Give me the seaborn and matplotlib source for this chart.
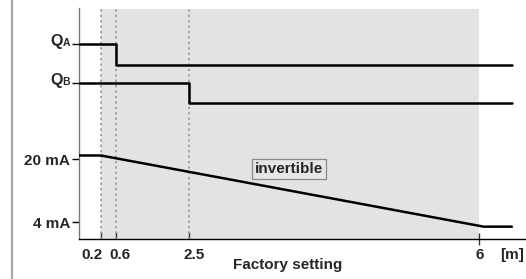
import numpy as np
import pandas as pd
import matplotlib
matplotlib.use("Agg")
import matplotlib.pyplot as plt
from matplotlib.lines import Line2D
import seaborn as sns

# ---- data ----
qa_x = [-0.375, 0.6, 0.6, 6.35]
qa_y = [49.1, 49.1, 43.9, 43.9]
qb_x = [-0.375, 2.5, 2.5, 6.35]
qb_y = [39.3, 39.3, 34.2, 34.2]
ma_x = [-0.375, 0.2, 6.05, 6.35]
ma_y = [20.9, 20.9, 2.9, 2.9]
x_ticks = [0.2, 0.6, 2.5]
x_minor = [6]
x_tick_labels = ["0.2", "0.6", "2.5", "6"]
x_label_pos = [0.2, 0.6, 2.5, 6]
x_label_shift = [-6.3, 2.9, 4.0, 0.7]   # points, labels sit beside their ticks
y_ticks = [49.1, 39.3, 20.0, 4.0]
y_tick_labels = ["", "", "20 mA", "4 mA"]
q_labels = [("Q", "A", 49.1), ("Q", "B", 39.3)]
dotted_x = [0.2, 0.6, 2.5]
shade_range = (0.2, 6)

sns.set_theme(style="white")
plt.rcParams["font.family"] = ["Liberation Sans", "DejaVu Sans"]
plt.rcParams["font.weight"] = "bold"

W, H = 526, 279
FS = 11
fig = plt.figure(figsize=(W / 100, H / 100), dpi=100)
ax = fig.add_axes([79 / W, 1 - 239 / H, 1 - 79 / W, (239 - 8) / H])

# piecewise scale
kx = np.array([-0.375, 2.5, 6.0, 6.5])
kp = np.array([79.0, 189.0, 479.0, 526.0])
fwd = lambda x: np.interp(x, kx, kp)
inv = lambda p: np.interp(p, kp, kx)
ax.set_xscale("function", functions=(fwd, inv))
ax.set_xlim(-0.375, 6.5)
ax.set_ylim(-0.22, 58.2)

top_frac = (239 - 9) / (239 - 8)
ax.axvspan(*shade_range, ymin=0, ymax=top_frac, color="#e2e3e5", lw=0, zorder=0)
for xv in dotted_x:
    ax.axvline(xv, ymin=0, ymax=top_frac, color="#9a9a9a", ls=(0, (1.2, 1.8)), lw=1.3, zorder=1)

for xs, ys in [(qa_x, qa_y), (qb_x, qb_y), (ma_x, ma_y)]:
    df = pd.DataFrame({"x": xs, "y": ys})
    sns.lineplot(data=df, x="x", y="y", sort=False, estimator=None, color="black",
                 lw=1.8, ax=ax, zorder=3)

ax.set_xlabel("")
ax.set_ylabel("")

# spines
for s in ["top", "right"]:
    ax.spines[s].set_visible(False)
ax.spines["left"].set_color("#777777")
ax.spines["left"].set_linewidth(1.0)
ax.spines["bottom"].set_color("black")
ax.spines["bottom"].set_linewidth(1.0)

# ticks
ax.set_xticks(x_ticks)
ax.set_xticks(x_minor, minor=True)
ax.set_xticklabels([""] * len(x_ticks))
ax.set_xticklabels([""] * len(x_minor), minor=True)
ax.tick_params(axis="x", which="major", direction="in", length=5, width=1.0,
               color="#333333", bottom=True)
ax.tick_params(axis="x", which="minor", direction="inout", length=8, width=1.0,
               color="#333333", bottom=True)
for xv, lbl, dx in zip(x_label_pos, x_tick_labels, x_label_shift):
    ax.annotate(lbl, xy=(xv, 0), xycoords=("data", "axes fraction"),
                xytext=(dx, -14.6), textcoords="offset points",
                ha="center", va="baseline", fontsize=FS, fontweight="bold",
                annotation_clip=False)

ax.set_yticks(y_ticks)
ax.set_yticklabels(y_tick_labels)
ax.tick_params(axis="y", direction="out", length=5, width=1.0, color="black",
               pad=1.5, labelsize=FS, left=True)
for lab in ax.get_yticklabels():
    lab.set_fontweight("bold")

# Q labels with small-capital suffix
for big, small, yv in q_labels:
    ax.annotate(small, xy=(0, yv), xycoords=("axes fraction", "data"),
                xytext=(-6.4, -1.6), textcoords="offset points",
                ha="right", va="baseline", fontsize=7.5, fontweight="bold")
    ax.annotate(big, xy=(0, yv), xycoords=("axes fraction", "data"),
                xytext=(-12.0, -1.6), textcoords="offset points",
                ha="right", va="baseline", fontsize=11.5, fontweight="bold")

# unit and axis title
ax.annotate("[m]", xy=(6.5, 0), xycoords=("data", "axes fraction"),
            xytext=(-10, -14.6), textcoords="offset points", ha="center", va="baseline",
            fontsize=FS, fontweight="bold", annotation_clip=False)
ax.annotate("Factory setting", xy=(0, 0), xycoords="axes fraction",
            xytext=((288 - 79) * 0.72, -21.6), textcoords="offset points",
            ha="center", va="baseline", fontsize=FS, fontweight="bold",
            annotation_clip=False)

# invertible box
ax.text((289 - 79) / (W - 79), (239 - 169) / (239 - 8), "invertible",
        transform=ax.transAxes, ha="center", va="center", fontsize=FS, fontweight="bold",
        zorder=4,
        bbox=dict(boxstyle="square,pad=0.2", fc="#e5e6e8", ec="#8a8a8a", lw=0.9))

# page border line at left
fig.add_artist(Line2D([11.5 / W, 11.5 / W], [0, 1], transform=fig.transFigure,
                      color="#a8a8a8", lw=1.6))

fig.savefig("out.png", dpi=100)
